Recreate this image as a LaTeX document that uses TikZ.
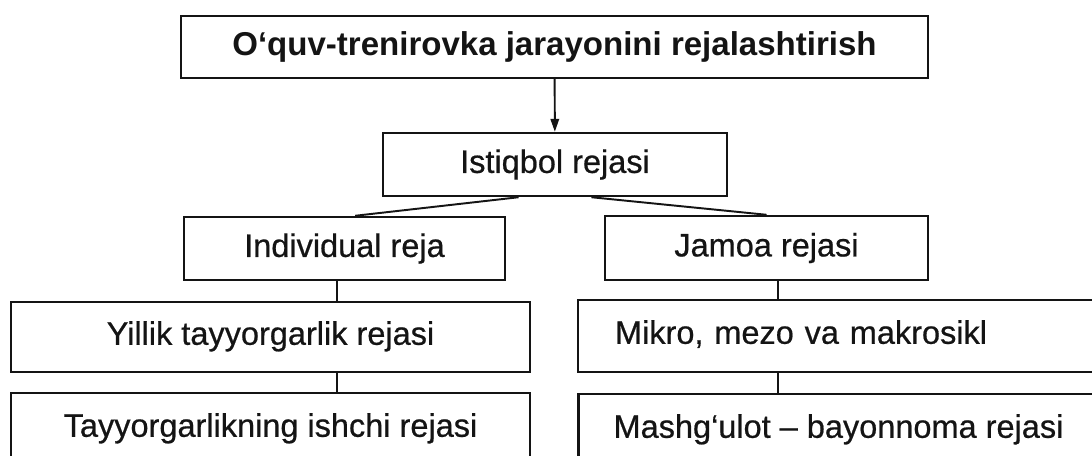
\documentclass[tikz,border=0pt]{standalone}
\usepackage{fontspec}
\setmainfont{Liberation Sans}[UprightFeatures={FakeBold=0.6}]
\usetikzlibrary{arrows.meta,positioning}
\definecolor{PlanInk}{HTML}{141414}
\definecolor{PlanPaper}{HTML}{FFFFFF}
\tikzset{
  feed/.style={-{Triangle[length=2.6mm,width=1.7mm]},PlanInk,line width=1.1pt},
  tie/.style={PlanInk,line width=1.1pt},
  plan/.style={draw=PlanInk,line width=1.4pt,fill=PlanPaper,text=PlanInk,
               inner sep=0pt,align=center,font=\fontsize{18.5}{22}\selectfont},
  planhead/.style={plan,font=\fontsize{18.8}{22}\selectfont\bfseries},
  plantall/.style={plan,text depth=0.16cm},
}

\begin{document}
\begin{tikzpicture}[x=.02cm,y=-.02cm]
    \fill[PlanPaper] (0,0) rectangle (1092,456);
    \useasboundingbox (0,0) rectangle (1092,456);
    \clip (0,0) rectangle (1092,456);

    \node[planhead,minimum width=14.94cm,minimum height=1.24cm] (title) at (554.5,47)
      {O‘quv-trenirovka jarayonini rejalashtirish};
    \node[plan,minimum width=6.88cm,minimum height=1.26cm] (ist) at (555,164.5)
      {Istiqbol rejasi};

    \node[plan,minimum width=6.42cm,minimum height=1.26cm] (ind) at (344.5,248.5)
      {Individual reja};
    \node[plan,minimum width=6.46cm,minimum height=1.28cm] (jam) at (766.5,248)
      {Jamoa rejasi};

    \node[plantall,minimum width=10.38cm,minimum height=1.4cm] (yil) at (270.5,337)
      {Yillik tayyorgarlik rejasi};
    \node[plantall,minimum height=1.44cm,inner xsep=.74cm,text width=8.92cm,align=left]
      (mik) at (838,336) {Mikro, mezo va makrosikl};

    \node[plantall,minimum width=10.38cm,minimum height=1.44cm] (tay) at (270.5,429)
      {Tayyorgarlikning ishchi rejasi};
    \node[plantall,minimum width=10.4cm,minimum height=1.44cm] (mas) at (838.5,430)
      {Mashg‘ulot – bayonnoma rejasi};

    \draw[feed] (title) -- (ist);
    \draw[tie] (ist.222) -- (ind.72);
    \draw[tie] (ist.318) -- (jam.north);
    \draw[tie] ([xshift=-.15cm]ind.south) -- ([xshift=-.15cm]ind.south |- yil.north);
    \draw[tie] ([xshift=.23cm]jam.south) -- ([xshift=.23cm]jam.south |- mik.north);
    \draw[tie] ([xshift=1.33cm]yil.south) -- ([xshift=1.33cm]yil.south |- tay.north);
    \draw[tie] ([xshift=-1.2cm]mik.south) -- ([xshift=-1.2cm]mik.south |- mas.north);
  \end{tikzpicture}
\end{document}
